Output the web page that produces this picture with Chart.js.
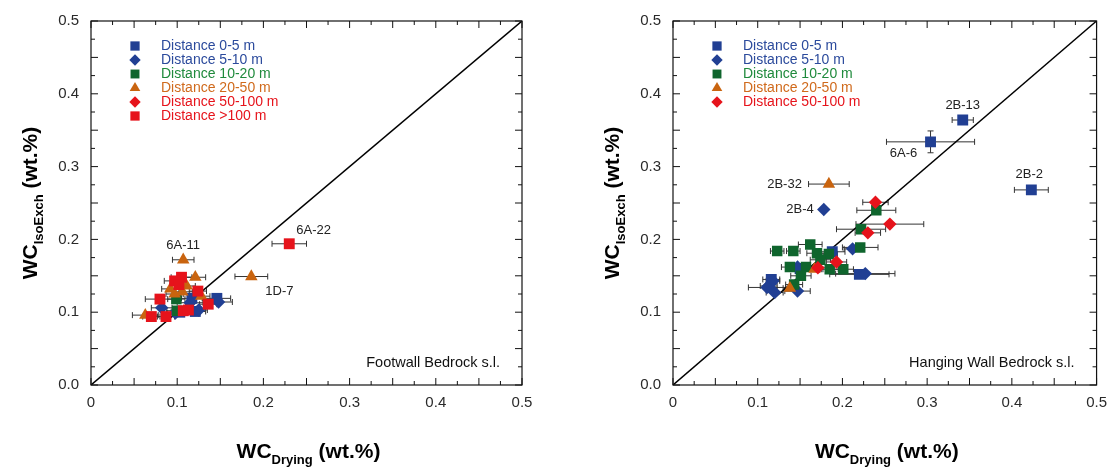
<!DOCTYPE html>
<html>
<head>
<meta charset="utf-8">
<script src="https://cdn.jsdelivr.net/npm/chart.js@4.4.1/dist/chart.umd.min.js"></script>
<style>
  body { margin: 0; background: #fff; }
  #wrap { position: relative; width: 1116px; height: 471px; }
  canvas { position: absolute; top: 0; }
  #fw { left: 0; }
  #hw { left: 558px; }
</style>
</head>
<body>
<div id="wrap">
  <canvas id="fw" width="558" height="471"></canvas>
  <canvas id="hw" width="558" height="471"></canvas>
</div>
<script>
// rows are [WC drying, WC isoexch, x error, y error, sample tag]
const fw05 = [[0.146, 0.119, 0.016, 0], [0.117, 0.119, 0.012, 0], [0.121, 0.101, 0.012, 0], [0.103, 0.100, 0.010, 0]];
const fw510 = [[0.148, 0.114, 0.016, 0], [0.082, 0.106, 0.012, 0], [0.115, 0.113, 0.015, 0], [0.125, 0.103, 0.010, 0], [0.098, 0.099, 0.010, 0]];
const fw1020 = [[0.099, 0.118, 0.010, 0], [0.100, 0.102, 0.012, 0]];
const fw2050 = [[0.107, 0.172, 0.0125, 0, '6A-11'], [0.186, 0.149, 0.019, 0, '1D-7'], [0.121, 0.148, 0.012, 0], [0.111, 0.136, 0.010, 0],
  [0.097, 0.125, 0.010, 0], [0.106, 0.128, 0.012, 0], [0.128, 0.122, 0.010, 0], [0.063, 0.096, 0.015, 0], [0.092, 0.132, 0.010, 0]];
const fw50100 = [];
const fw100 = [[0.230, 0.194, 0.020, 0, '6A-22'], [0.105, 0.148, 0.012, 0], [0.097, 0.143, 0.012, 0], [0.102, 0.138, 0.010, 0],
  [0.124, 0.129, 0.010, 0], [0.080, 0.118, 0.017, 0], [0.136, 0.111, 0.010, 0], [0.107, 0.102, 0.012, 0], [0.113, 0.103, 0.012, 0],
  [0.070, 0.094, 0.010, 0], [0.087, 0.094, 0.010, 0]];

const hw05 = [[0.342, 0.364, 0.0125, 0, '2B-13'], [0.304, 0.334, 0.052, 0.015, '6A-6'], [0.423, 0.268, 0.020, 0, '2B-2'],
  [0.220, 0.152, 0.035, 0], [0.188, 0.183, 0.015, 0], [0.116, 0.145, 0.010, 0], [0.150, 0.160, 0.010, 0]];
const hw510 = [[0.178, 0.241, 0, 0, '2B-4'], [0.212, 0.187, 0.010, 0], [0.147, 0.162, 0.010, 0], [0.227, 0.153, 0.035, 0],
  [0.113, 0.136, 0.010, 0], [0.118, 0.143, 0.008, 0], [0.120, 0.127, 0.010, 0], [0.111, 0.134, 0.022, 0], [0.147, 0.129, 0.015, 0]];
const hw1020 = [[0.240, 0.240, 0.023, 0], [0.222, 0.214, 0.029, 0], [0.221, 0.189, 0.021, 0], [0.123, 0.184, 0.008, 0],
  [0.142, 0.184, 0.008, 0], [0.162, 0.193, 0.014, 0], [0.170, 0.181, 0.012, 0], [0.184, 0.180, 0.010, 0], [0.174, 0.172, 0.012, 0],
  [0.138, 0.162, 0.010, 0], [0.157, 0.162, 0.010, 0], [0.185, 0.159, 0.010, 0], [0.201, 0.159, 0.012, 0], [0.151, 0.150, 0.012, 0],
  [0.143, 0.138, 0.010, 0]];
const hw2050 = [[0.184, 0.276, 0.024, 0, '2B-32'], [0.167, 0.159, 0.010, 0], [0.138, 0.133, 0.008, 0]];
const hw50100 = [[0.239, 0.251, 0.015, 0], [0.256, 0.221, 0.040, 0], [0.230, 0.209, 0.015, 0], [0.193, 0.169, 0.012, 0], [0.171, 0.161, 0.010, 0]];

const axisTicks = [0, 0.1, 0.2, 0.3, 0.4, 0.5];
const oneToOne = [0, 0.5];

const FONT = "'Liberation Sans', Arial, Helvetica, sans-serif";
const BLUE = '#213f93', GREEN = '#0f652d', ORANGE = '#c9640f', RED = '#e6131b';

const groups = [
  { label: 'Distance 0-5 m', style: 'rect', color: BLUE, text: '#2b4a9c', r: 7.7 },
  { label: 'Distance 5-10 m', style: 'rectRot', color: BLUE, text: '#2b4a9c', r: 6.7 },
  { label: 'Distance 10-20 m', style: 'rect', color: GREEN, text: '#1f8a3c', r: 7.4 },
  { label: 'Distance 20-50 m', style: 'triangle', color: ORANGE, text: '#d06a1c', r: 7.2 },
  { label: 'Distance 50-100 m', style: 'rectRot', color: RED, text: RED, r: 6.7 },
  { label: 'Distance >100 m', style: 'rect', color: RED, text: RED, r: 7.7 }
];

// where each sample tag sits relative to its marker
const tagPlace = {
  '6A-11': [0, -14, 'center'], '1D-7': [14, 15, 'left'], '6A-22': [7, -13, 'left'],
  '2B-13': [0, -15, 'center'], '6A-6': [-27, 12, 'center'], '2B-2': [-2, -15, 'center'],
  '2B-32': [-27, 0, 'right'], '2B-4': [-10, 0, 'right']
};

function drawMarker(ctx, style, x, y, r) {
  ctx.beginPath();
  if (style === 'rect') {
    const h = r * Math.SQRT1_2;
    ctx.rect(x - h, y - h, 2 * h, 2 * h);
  } else if (style === 'rectRot') {
    ctx.moveTo(x - r, y); ctx.lineTo(x, y - r); ctx.lineTo(x + r, y); ctx.lineTo(x, y + r);
    ctx.closePath();
  } else {
    for (let k = 0; k < 3; k++) {
      const a = k * 2 * Math.PI / 3;
      const px = x + Math.sin(a) * r, py = y - Math.cos(a) * r;
      k ? ctx.lineTo(px, py) : ctx.moveTo(px, py);
    }
    ctx.closePath();
  }
  ctx.fill();
}

// "WC" + subscript + " (wt.%)", centred on (0,0) along the baseline
function drawTitle(ctx, sub) {
  const big = 'bold 21px ' + FONT, small = 'bold 13px ' + FONT;
  ctx.font = big; const w1 = ctx.measureText('WC').width;
  ctx.font = small; const w2 = ctx.measureText(sub).width;
  ctx.font = big; const w3 = ctx.measureText(' (wt.%)').width;
  let x = -(w1 + w2 + w3) / 2;
  ctx.fillStyle = '#000';
  ctx.textBaseline = 'alphabetic';
  ctx.textAlign = 'left';
  ctx.font = big; ctx.fillText('WC', x, 0); x += w1;
  ctx.font = small; ctx.fillText(sub, x, 6); x += w2;
  ctx.font = big; ctx.fillText(' (wt.%)', x, 0);
}

const errorBars = {
  id: 'errorBars',
  beforeDatasetsDraw(chart) {
    const { ctx, scales: { x, y } } = chart;
    ctx.save();
    ctx.strokeStyle = '#333';
    ctx.lineWidth = 1;
    chart.data.datasets.forEach(ds => {
      if (ds.groupIndex === undefined) return;
      ds.data.forEach(p => {
        const cx = x.getPixelForValue(p.x), cy = y.getPixelForValue(p.y);
        ctx.beginPath();
        if (p.ex) {
          const a = x.getPixelForValue(p.x - p.ex), b = x.getPixelForValue(p.x + p.ex);
          ctx.moveTo(a, cy); ctx.lineTo(b, cy);
          ctx.moveTo(a, cy - 3); ctx.lineTo(a, cy + 3);
          ctx.moveTo(b, cy - 3); ctx.lineTo(b, cy + 3);
        }
        if (p.ey) {
          const a = y.getPixelForValue(p.y - p.ey), b = y.getPixelForValue(p.y + p.ey);
          ctx.moveTo(cx, a); ctx.lineTo(cx, b);
          ctx.moveTo(cx - 3, a); ctx.lineTo(cx + 3, a);
          ctx.moveTo(cx - 3, b); ctx.lineTo(cx + 3, b);
        }
        ctx.stroke();
      });
    });
    ctx.restore();
  }
};

const frame = {
  id: 'frame',
  afterDraw(chart) {
    const { ctx, chartArea: a, scales: { x, y } } = chart;
    const opts = chart.options.plugins.frame;
    ctx.save();
    ctx.strokeStyle = '#111';
    ctx.lineWidth = 1.2;
    ctx.strokeRect(a.left, a.top, a.width, a.height);
    ctx.lineWidth = 1;
    for (let i = 0; i <= 20; i++) {
      const v = i * 0.025, len = i % 2 ? 4 : 7;
      const px = x.getPixelForValue(v), py = y.getPixelForValue(v);
      ctx.beginPath();
      ctx.moveTo(px, a.bottom); ctx.lineTo(px, a.bottom - len);
      ctx.moveTo(px, a.top); ctx.lineTo(px, a.top + len);
      ctx.moveTo(a.left, py); ctx.lineTo(a.left + len, py);
      ctx.moveTo(a.right, py); ctx.lineTo(a.right - len, py);
      ctx.stroke();
    }

    // legend in the upper left corner
    ctx.textBaseline = 'middle';
    ctx.textAlign = 'left';
    ctx.font = '14px ' + FONT;
    let row = 0;
    chart.data.datasets.forEach(ds => {
      if (ds.groupIndex === undefined) return;
      const g = groups[ds.groupIndex];
      const ly = a.top + 25 + row * 14;
      ctx.fillStyle = g.color;
      drawMarker(ctx, g.style, a.left + 44, ly, g.r * 0.85);
      ctx.fillStyle = g.text;
      ctx.fillText(g.label, a.left + 70, ly);
      row++;
    });

    // sample tags
    ctx.fillStyle = '#222';
    ctx.font = '13px ' + FONT;
    chart.data.datasets.forEach(ds => {
      ds.data.forEach(p => {
        if (!p.tag) return;
        const [dx, dy, align] = tagPlace[p.tag];
        ctx.textAlign = align;
        ctx.fillText(p.tag, x.getPixelForValue(p.x) + dx, y.getPixelForValue(p.y) + dy);
      });
    });

    // rock unit caption
    ctx.fillStyle = '#111';
    ctx.font = '14.5px ' + FONT;
    ctx.textAlign = 'right';
    ctx.fillText(opts.caption, a.right - 22, a.bottom - 22);

    // axis titles
    ctx.save();
    ctx.translate((a.left + a.right) / 2 + 2, 458);
    drawTitle(ctx, 'Drying');
    ctx.restore();
    ctx.save();
    ctx.translate(a.left - opts.titleGap, (a.top + a.bottom) / 2);
    ctx.rotate(-Math.PI / 2);
    drawTitle(ctx, 'IsoExch');
    ctx.restore();
    ctx.restore();
  }
};

function makeChart(id, sets, yWidth, padRight, caption, titleGap) {
  const datasets = [{
    type: 'line',
    data: oneToOne.map(v => ({ x: v, y: v })),
    borderColor: '#000',
    borderWidth: 1.5,
    pointRadius: 0,
    order: 20
  }];
  sets.forEach((rows, i) => {
    const g = groups[i];
    datasets.push({
      label: g.label,
      groupIndex: i,
      data: rows.map(([x, y, ex, ey, tag]) => ({ x, y, ex, ey, tag })),
      pointStyle: g.style,
      pointRadius: g.r,
      backgroundColor: g.color,
      borderWidth: 0,
      order: 10 - i
    });
  });

  const axis = (isX, fit) => ({
    type: 'linear',
    min: 0,
    max: 0.5,
    afterBuildTicks: s => { s.ticks = axisTicks.map(v => ({ value: v })); },
    ticks: {
      color: '#2a2a2a',
      font: { family: FONT, size: 15 },
      padding: isX ? 9 : 12,
      callback: v => (isX && v === 0) ? '0' : v.toFixed(1)
    },
    grid: { display: false, drawTicks: false },
    border: { display: false },
    afterFit: fit
  });

  return new Chart(document.getElementById(id), {
    type: 'scatter',
    data: { datasets },
    options: {
      responsive: false,
      animation: false,
      layout: { padding: { top: 17, right: padRight, bottom: 0, left: 0 } },
      scales: {
        x: axis(true, s => { s.height = 86; }),
        y: axis(false, s => { s.width = yWidth; })
      },
      plugins: {
        legend: { display: false },
        tooltip: { enabled: false },
        frame: { caption, titleGap }
      }
    },
    plugins: [errorBars, frame]
  });
}

makeChart('fw', [fw05, fw510, fw1020, fw2050, fw50100, fw100], 91, 36, 'Footwall Bedrock s.l.', 54);
makeChart('hw', [hw05, hw510, hw1020, hw2050, hw50100], 115, 12, 'Hanging Wall Bedrock s.l.', 54);
</script>
</body>
</html>
